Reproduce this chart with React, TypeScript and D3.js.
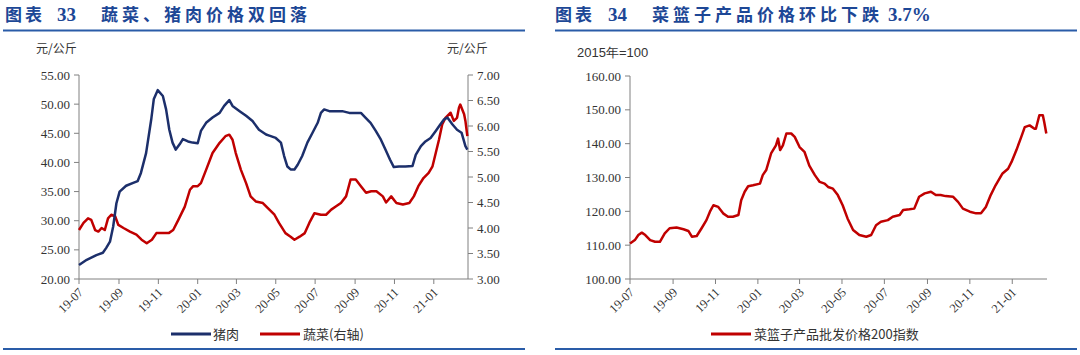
import React from "react";
import * as d3 from "d3";

// ---------- DATA ----------
const pork: [string, number][] = [
  ["2019-07-01",22.4],["2019-07-13",23.3],["2019-07-28",24.1],["2019-08-07",24.5],["2019-08-12",25.3],["2019-08-18",26.4],["2019-08-23",29.0],["2019-08-28",33.0],["2019-09-02",35.0],["2019-09-12",36.0],["2019-09-23",36.5],["2019-09-30",36.8],["2019-10-05",38.2],["2019-10-13",41.6],["2019-10-21",47.4],["2019-10-25",50.9],["2019-10-31",52.4],["2019-11-08",51.4],["2019-11-13",49.1],["2019-11-18",45.6],["2019-11-23",43.4],["2019-11-28",42.2],["2019-12-04",43.1],["2019-12-09",44.0],["2019-12-17",43.6],["2019-12-24",43.4],["2020-01-01",43.3],["2020-01-06",45.4],["2020-01-14",46.8],["2020-01-24",47.7],["2020-02-04",48.5],["2020-02-11",49.7],["2020-02-19",50.7],["2020-02-24",49.7],["2020-03-06",48.8],["2020-03-16",48.0],["2020-03-26",47.1],["2020-04-05",45.6],["2020-04-16",44.8],["2020-04-21",44.6],["2020-05-01",44.2],["2020-05-09",43.4],["2020-05-14",41.1],["2020-05-19",39.3],["2020-05-24",38.8],["2020-05-30",38.8],["2020-06-04",39.6],["2020-06-11",41.1],["2020-06-19",43.4],["2020-06-27",45.1],["2020-07-05",46.8],["2020-07-10",48.5],["2020-07-15",49.1],["2020-07-23",48.8],["2020-08-02",48.8],["2020-08-12",48.8],["2020-08-23",48.5],["2020-09-02",48.5],["2020-09-10",48.5],["2020-09-17",47.7],["2020-09-25",46.8],["2020-10-03",45.4],["2020-10-11",43.9],["2020-10-18",42.2],["2020-10-25",40.5],["2020-10-31",39.2],["2020-11-08",39.3],["2020-11-18",39.3],["2020-11-29",39.4],["2020-12-04",41.3],["2020-12-12",42.8],["2020-12-19",43.6],["2020-12-27",44.2],["2021-01-04",45.4],["2021-01-11",46.5],["2021-01-17",47.4],["2021-01-22",47.7],["2021-01-30",46.5],["2021-02-06",45.6],["2021-02-13",45.1],["2021-02-19",42.8],["2021-02-22",42.2]
];

const vegetables: [string, number][] = [
  ["2019-07-01",3.96],["2019-07-08",4.10],["2019-07-15",4.19],["2019-07-20",4.16],["2019-07-26",3.96],["2019-07-31",3.93],["2019-08-05",4.00],["2019-08-10",3.96],["2019-08-15",4.19],["2019-08-20",4.26],["2019-08-26",4.23],["2019-08-31",4.06],["2019-09-08",4.00],["2019-09-18",3.93],["2019-09-28",3.87],["2019-10-06",3.77],["2019-10-14",3.70],["2019-10-22",3.77],["2019-10-29",3.90],["2019-11-09",3.90],["2019-11-17",3.90],["2019-11-24",3.96],["2019-12-02",4.16],["2019-12-12",4.42],["2019-12-20",4.75],["2019-12-25",4.82],["2020-01-01",4.82],["2020-01-06",4.88],["2020-01-14",5.14],["2020-01-24",5.47],["2020-02-04",5.67],["2020-02-13",5.80],["2020-02-19",5.83],["2020-02-24",5.73],["2020-02-29",5.47],["2020-03-08",5.14],["2020-03-16",4.88],["2020-03-23",4.62],["2020-03-31",4.52],["2020-04-11",4.49],["2020-04-18",4.40],["2020-04-29",4.26],["2020-05-06",4.10],["2020-05-16",3.90],["2020-05-24",3.83],["2020-05-30",3.77],["2020-06-07",3.83],["2020-06-15",3.90],["2020-06-22",4.10],["2020-06-30",4.29],["2020-07-10",4.26],["2020-07-18",4.26],["2020-07-26",4.36],["2020-08-02",4.42],["2020-08-10",4.49],["2020-08-18",4.62],["2020-08-25",4.95],["2020-09-02",4.95],["2020-09-10",4.82],["2020-09-18",4.69],["2020-09-26",4.72],["2020-10-04",4.72],["2020-10-14",4.62],["2020-10-19",4.50],["2020-10-27",4.62],["2020-11-04",4.49],["2020-11-14",4.46],["2020-11-24",4.49],["2020-12-01",4.62],["2020-12-08",4.82],["2020-12-16",4.98],["2020-12-24",5.08],["2020-12-30",5.21],["2021-01-04",5.47],["2021-01-09",5.73],["2021-01-14",6.03],["2021-01-19",6.16],["2021-01-27",6.26],["2021-02-01",6.10],["2021-02-06",6.16],["2021-02-09",6.36],["2021-02-11",6.42],["2021-02-17",6.23],["2021-02-19",6.10],["2021-02-22",5.80]
];

const basketIndex: [string, number][] = [
  ["2019-07-01",110.5],["2019-07-08",111.5],["2019-07-13",113.0],["2019-07-18",113.7],["2019-07-23",113.0],["2019-07-30",111.5],["2019-08-06",111.0],["2019-08-13",111.0],["2019-08-20",113.5],["2019-08-27",115.0],["2019-09-06",115.2],["2019-09-16",114.7],["2019-09-23",114.2],["2019-09-28",112.5],["2019-10-05",112.7],["2019-10-12",115.0],["2019-10-19",117.4],["2019-10-24",119.9],["2019-10-29",121.8],["2019-11-05",121.3],["2019-11-12",119.4],["2019-11-19",118.4],["2019-11-26",118.4],["2019-12-04",118.9],["2019-12-08",123.3],["2019-12-13",125.8],["2019-12-18",127.4],["2019-12-25",127.7],["2020-01-04",128.2],["2020-01-08",130.7],["2020-01-13",132.2],["2020-01-20",137.1],["2020-01-27",139.5],["2020-01-30",141.5],["2020-02-02",138.1],["2020-02-06",139.5],["2020-02-11",143.0],["2020-02-18",143.0],["2020-02-23",142.0],["2020-03-01",139.0],["2020-03-08",137.6],["2020-03-15",133.5],["2020-03-23",130.7],["2020-03-30",128.7],["2020-04-06",128.2],["2020-04-11",127.2],["2020-04-18",126.7],["2020-04-25",124.8],["2020-05-02",121.8],["2020-05-09",117.9],["2020-05-17",114.5],["2020-05-26",113.0],["2020-06-05",112.5],["2020-06-12",113.0],["2020-06-19",115.9],["2020-06-26",116.9],["2020-07-06",117.4],["2020-07-13",118.4],["2020-07-23",118.9],["2020-07-28",120.4],["2020-08-06",120.6],["2020-08-13",120.8],["2020-08-20",124.3],["2020-08-28",125.3],["2020-09-06",125.8],["2020-09-13",124.8],["2020-09-20",124.8],["2020-09-27",124.5],["2020-10-08",124.3],["2020-10-15",122.8],["2020-10-22",120.8],["2020-11-01",119.9],["2020-11-10",119.4],["2020-11-17",119.4],["2020-11-24",121.3],["2020-12-01",124.8],["2020-12-08",127.7],["2020-12-18",131.2],["2020-12-26",132.6],["2020-12-31",134.6],["2021-01-07",138.1],["2021-01-14",142.0],["2021-01-19",144.9],["2021-01-26",145.4],["2021-02-02",144.4],["2021-02-04",144.4],["2021-02-09",148.4],["2021-02-14",148.4],["2021-02-16",146.4],["2021-02-19",143.0]
];

const xTickLabels = ["19-07","19-09","19-11","20-01","20-03","20-05","20-07","20-09","20-11","21-01"];
const leftTicks = [20, 25, 30, 35, 40, 45, 50, 55];
const rightTicks = [3, 3.5, 4, 4.5, 5, 5.5, 6, 6.5, 7];
const basketTicks = [100, 110, 120, 130, 140, 150, 160];

const title1 = ["图表", "33", "蔬菜、猪肉价格双回落"];
const title2 = ["图表", "34", "菜篮子产品价格环比下跌", "3.7%"];
const unitLabel = "元/公斤";
const baseLabel = "2015年=100";
const legend1 = ["猪肉", "蔬菜(右轴)"];
const legend2 = "菜篮子产品批发价格200指数";

// ---------- STYLE ----------
const BLUE = "#1c2f6b";
const RED = "#c00000";
const RULE = "#2a5ca8";
const TITLE = "#1d4796";
const AXIS = "#808080";
const TEXT = "#333333";
const SERIF = "'Liberation Serif', 'Times New Roman', serif";
const CJK = "'Noto Sans CJK SC', sans-serif";

const parse = d3.timeParse("%Y-%m-%d");
const fmt = d3.timeFormat("%y-%m");

function XAxis({ x, y0, xEnd }: { x: d3.ScaleTime<number, number>; y0: number; xEnd: number }) {
  const ticks = xTickLabels.map((l) => parse("20" + l + "-01")!);
  const [x0] = x.range();
  return (
    <g>
      <line x1={x0} x2={xEnd} y1={y0} y2={y0} stroke={AXIS} strokeWidth={1} />
      {ticks.map((t, i) => (
        <g key={i}>
          <line x1={x(t)} x2={x(t)} y1={y0} y2={y0 + 5} stroke={AXIS} />
          <text
            transform={`translate(${x(t) + 5},${y0 + 14}) rotate(-45)`}
            textAnchor="end"
            fontFamily={SERIF}
            fontSize={12.5}
            fill={TEXT}
          >
            {fmt(t)}
          </text>
        </g>
      ))}
    </g>
  );
}

function YAxis({ y, ticks, xPos, side }: { y: d3.ScaleLinear<number, number>; ticks: number[]; xPos: number; side: "left" | "right" }) {
  const [r0, r1] = y.range();
  const dir = side === "left" ? -1 : 1;
  return (
    <g>
      <line x1={xPos} x2={xPos} y1={r0} y2={r1} stroke={AXIS} />
      {ticks.map((t) => (
        <g key={t}>
          <line x1={xPos} x2={xPos + dir * 5} y1={y(t)} y2={y(t)} stroke={AXIS} />
          <text
            x={xPos + dir * 9}
            y={y(t)}
            dy="0.35em"
            textAnchor={side === "left" ? "end" : "start"}
            fontFamily={SERIF}
            fontSize={13}
            fill={TEXT}
          >
            {t.toFixed(2)}
          </text>
        </g>
      ))}
    </g>
  );
}

export default function App() {
  // Left chart scales
  const xL = d3.scaleTime().domain([parse("2019-07-01")!, parse("2021-02-23")!]).range([79, 468]);
  const yL = d3.scaleLinear().domain([20, 55]).range([279, 75]);
  const yR = d3.scaleLinear().domain([3, 7]).range([279, 75]);
  // Right chart scales
  const xB = d3.scaleTime().domain([parse("2019-07-01")!, parse("2021-02-20")!]).range([630, 1047]);
  const yB = d3.scaleLinear().domain([100, 160]).range([279, 76]);

  const linePork = d3.line<[string, number]>().x((d) => xL(parse(d[0])!)).y((d) => yL(d[1]));
  const lineVeg = d3.line<[string, number]>().x((d) => xL(parse(d[0])!)).y((d) => yR(d[1]));
  const lineBasket = d3.line<[string, number]>().x((d) => xB(parse(d[0])!)).y((d) => yB(d[1]));

  const tY = 21;
  return (
    <svg width={1080} height={355} style={{ position: "absolute", left: 0, top: 0, background: "#fff" }}>
      <rect x={0} y={0} width={1080} height={355} fill="#fff" />

      {/* ---------- Left panel ---------- */}
      <text x={5} y={tY} fontFamily={CJK} fontWeight={700} fontSize={17} fill={TITLE} letterSpacing={3}>{title1[0]}</text>
      <text x={57} y={tY} fontFamily={SERIF} fontWeight={700} fontSize={19} fill={TITLE}>{title1[1]}</text>
      <text x={101} y={tY} fontFamily={CJK} fontWeight={700} fontSize={17} fill={TITLE} letterSpacing={4}>{title1[2]}</text>
      <line x1={3} x2={525} y1={30.5} y2={30.5} stroke={RULE} strokeWidth={2} />
      <text x={36} y={53} fontFamily={CJK} fontSize={12} fill={TEXT}>{unitLabel}</text>
      <text x={447} y={53} fontFamily={CJK} fontSize={12} fill={TEXT}>{unitLabel}</text>

      <YAxis y={yL} ticks={leftTicks} xPos={79} side="left" />
      <YAxis y={yR} ticks={rightTicks} xPos={468} side="right" />
      <XAxis x={xL} y0={279} xEnd={468} />

      <path d={lineVeg(vegetables)!} fill="none" stroke={RED} strokeWidth={2.5} strokeLinejoin="round" />
      <path d={linePork(pork)!} fill="none" stroke={BLUE} strokeWidth={2.5} strokeLinejoin="round" />

      <line x1={171} x2={211} y1={334} y2={334} stroke={BLUE} strokeWidth={3} />
      <text x={213} y={334} dy="0.35em" fontFamily={CJK} fontSize={13} fill={TEXT}>{legend1[0]}</text>
      <line x1={260} x2={300} y1={334} y2={334} stroke={RED} strokeWidth={3} />
      <text x={303} y={334} dy="0.35em" fontFamily={CJK} fontSize={13} fill={TEXT}>{legend1[1]}</text>
      <line x1={3} x2={525} y1={349} y2={349} stroke={RULE} strokeWidth={2} />

      {/* ---------- Right panel ---------- */}
      <text x={555} y={tY} fontFamily={CJK} fontWeight={700} fontSize={17} fill={TITLE} letterSpacing={3}>{title2[0]}</text>
      <text x={608} y={tY} fontFamily={SERIF} fontWeight={700} fontSize={19} fill={TITLE}>{title2[1]}</text>
      <text x={652} y={tY} fontFamily={CJK} fontWeight={700} fontSize={17} fill={TITLE} letterSpacing={4}>{title2[2]}</text>
      <text x={888} y={tY} fontFamily={SERIF} fontWeight={700} fontSize={19} fill={TITLE}>{title2[3]}</text>
      <line x1={555} x2={1077} y1={30.5} y2={30.5} stroke={RULE} strokeWidth={2} />
      <text x={577} y={57} fontFamily="'Liberation Sans', Arial, sans-serif" fontSize={13} fill={TEXT}>{baseLabel}</text>

      <YAxis y={yB} ticks={basketTicks} xPos={630} side="left" />
      <XAxis x={xB} y0={279} xEnd={1047} />
      <path d={lineBasket(basketIndex)!} fill="none" stroke={RED} strokeWidth={2.5} strokeLinejoin="round" />

      <line x1={711} x2={751} y1={334} y2={334} stroke={RED} strokeWidth={3} />
      <text x={754} y={334} dy="0.35em" fontFamily={CJK} fontSize={13} fill={TEXT}>{legend2}</text>
      <line x1={555} x2={1077} y1={349} y2={349} stroke={RULE} strokeWidth={2} />
    </svg>
  );
}
